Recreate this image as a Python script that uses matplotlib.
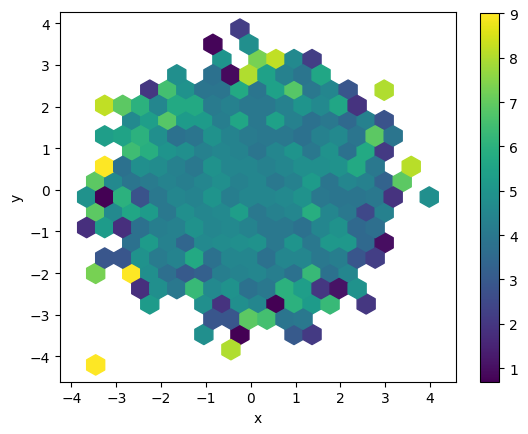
import numpy as np
import matplotlib
matplotlib.use('Agg')
import matplotlib.pyplot as plt

# range of the underlying x / y samples (sets the hexagon lattice)
x_range = (-3.862, 4.184)
y_range = (-4.206, 3.861)
grid = 20

# one entry per filled hexagon: centre x, centre y, value (one row of hexagons per line)
hex_x = [
    -0.24,
    -0.85, -0.04,
    -0.64, 0.16, 0.56, 0.97, 1.37,
    -1.65, -0.85, -0.44, -0.04, 0.36, 0.76, 1.17, 1.57,
    -2.25, -1.85, -1.45, -1.05, -0.64, -0.24, 0.16, 0.56, 0.97, 1.37, 1.77, 2.17, 2.98,
    -3.26, -2.86, -2.45, -2.05, -1.65, -1.25, -0.85, -0.44, -0.04, 0.36, 0.76, 1.17, 1.57, 1.97, 2.37,
    -2.66, -2.25, -1.85, -1.45, -1.05, -0.64, -0.24, 0.16, 0.56, 0.97, 1.37, 1.77, 2.17, 2.58, 2.98,
    -3.26, -2.86, -2.45, -2.05, -1.65, -1.25, -0.85, -0.44, -0.04, 0.36, 0.76, 1.17, 1.57, 1.97, 2.37, 2.78, 3.18,
    -2.66, -2.25, -1.85, -1.45, -1.05, -0.64, -0.24, 0.16, 0.56, 0.97, 1.37, 1.77, 2.17, 2.58, 2.98,
    -3.26, -2.86, -2.45, -2.05, -1.65, -1.25, -0.85, -0.44, -0.04, 0.36, 0.76, 1.17, 1.57, 1.97, 2.37, 2.78, 3.58,
    -3.46, -3.06, -2.66, -2.25, -1.85, -1.45, -1.05, -0.64, -0.24, 0.16, 0.56, 0.97, 1.37, 1.77, 2.17, 2.58, 2.98, 3.38,
    -3.66, -3.26, -2.86, -2.45, -2.05, -1.65, -1.25, -0.85, -0.44, -0.04, 0.36, 0.76, 1.17, 1.57, 1.97, 2.37, 2.78, 3.18, 3.98,
    -3.46, -3.06, -2.66, -2.25, -1.85, -1.45, -1.05, -0.64, -0.24, 0.16, 0.56, 0.97, 1.37, 1.77, 2.17, 2.58, 2.98,
    -3.66, -3.26, -2.86, -2.45, -2.05, -1.65, -1.25, -0.85, -0.44, -0.04, 0.36, 0.76, 1.17, 1.57, 1.97, 2.37, 2.78,
    -2.66, -2.25, -1.85, -1.45, -1.05, -0.64, -0.24, 0.16, 0.56, 0.97, 1.37, 1.77, 2.17, 2.58, 2.98,
    -3.26, -2.86, -2.45, -2.05, -1.65, -1.25, -0.85, -0.44, -0.04, 0.36, 0.76, 1.17, 1.57, 1.97, 2.37, 2.78,
    -3.46, -2.66, -2.25, -1.85, -1.45, -1.05, -0.64, -0.24, 0.16, 0.56, 0.97, 1.37, 1.77, 2.17,
    -2.45, -2.05, -1.65, -1.25, -0.85, -0.44, -0.04, 0.36, 0.76, 1.17, 1.57, 1.97, 2.37,
    -2.25, -1.05, -0.64, -0.24, 0.16, 0.56, 0.97, 1.37, 1.77, 2.58,
    -0.85, -0.44, -0.04, 0.36, 0.76, 1.17,
    -1.05, -0.24, 0.97, 1.37,
    -0.44,
    -3.46,
]
hex_y = (
    [3.86] * 1 + [3.49] * 2 + [3.13] * 5 + [2.76] * 8 + [2.39] * 13 + [2.03] * 15
    + [1.66] * 15 + [1.29] * 17 + [0.93] * 15 + [0.56] * 17 + [0.19] * 18 + [-0.17] * 19
    + [-0.54] * 17 + [-0.91] * 17 + [-1.27] * 15 + [-1.64] * 16 + [-2.01] * 14 + [-2.37] * 13
    + [-2.74] * 10 + [-3.11] * 6 + [-3.47] * 4 + [-3.84] * 1 + [-4.21] * 1
)
hex_c = [
    2.2,
    0.8, 4.8,
    5.0, 7.3, 8.2, 4.6, 2.2,
    4.8, 3.8, 0.9, 8.0, 5.4, 4.3, 3.9, 5.6,
    2.0, 6.5, 4.9, 3.9, 3.9, 5.7, 3.9, 5.4, 6.8, 4.0, 4.5, 2.9, 8.0,
    8.2, 6.9, 6.0, 4.5, 5.7, 5.7, 4.1, 4.3, 4.0, 4.0, 4.3, 5.0, 4.6, 5.6, 1.9,
    4.6, 5.3, 6.8, 5.2, 5.2, 4.2, 5.6, 4.0, 5.4, 4.3, 3.8, 4.0, 3.5, 4.3, 2.8,
    5.3, 5.5, 6.0, 4.8, 3.8, 3.9, 4.9, 4.4, 4.1, 4.0, 4.0, 3.8, 4.3, 4.6, 3.9, 6.9, 3.9,
    6.4, 5.9, 5.0, 4.8, 4.3, 4.5, 4.4, 3.9, 4.5, 5.0, 4.0, 4.9, 3.8, 5.7, 2.1,
    9.0, 3.8, 4.8, 4.7, 4.3, 4.0, 4.9, 4.5, 4.5, 4.3, 4.5, 4.8, 4.8, 4.9, 5.7, 4.0, 8.1,
    6.9, 4.6, 3.9, 4.1, 4.4, 4.2, 4.5, 4.8, 4.3, 4.5, 4.0, 4.3, 5.2, 3.9, 4.5, 4.3, 3.3, 6.9,
    4.9, 0.68, 6.0, 2.8, 4.0, 4.5, 4.4, 5.0, 4.2, 4.5, 4.5, 4.6, 4.9, 4.0, 3.9, 3.9, 4.0, 1.9, 4.8,
    6.9, 4.6, 5.6, 5.2, 4.0, 4.8, 4.5, 4.6, 5.3, 4.0, 4.3, 4.5, 5.9, 4.5, 4.0, 2.5, 4.3,
    1.8, 5.2, 1.8, 3.8, 4.2, 4.3, 4.9, 4.5, 4.6, 4.4, 4.0, 4.0, 3.8, 4.5, 4.9, 3.5, 3.7,
    3.8, 5.2, 4.3, 3.4, 4.6, 4.7, 4.8, 4.9, 4.0, 5.0, 4.0, 5.1, 5.1, 3.5, 1.0,
    2.9, 2.9, 4.9, 4.1, 4.4, 5.7, 3.8, 4.5, 4.5, 3.8, 4.5, 4.5, 4.0, 4.2, 2.9, 2.2,
    7.3, 9.0, 4.8, 3.7, 3.0, 3.2, 4.2, 4.4, 4.5, 4.2, 3.8, 6.3, 3.8, 4.5,
    1.8, 4.8, 4.0, 6.3, 4.6, 4.9, 3.8, 4.0, 6.0, 5.3, 2.0, 1.1, 4.9,
    5.2, 4.8, 1.9, 4.8, 4.5, 0.7, 6.0, 5.2, 6.3, 2.0,
    2.9, 2.9, 6.9, 6.5, 3.9, 4.0,
    4.8, 0.7, 3.0, 2.1,
    8.0,
    9.0,
]

fig = plt.figure(figsize=(5.28, 4.35), dpi=100)
ax = fig.add_axes([0.1129, 0.1202, 0.7513, 0.8492])
cax = fig.add_axes([0.9091, 0.1189, 0.0366, 0.8481])

hb = ax.hexbin(hex_x, hex_y, C=hex_c, gridsize=grid, reduce_C_function=np.mean,
               extent=(x_range[0], x_range[1], y_range[0], y_range[1]), cmap='viridis')
fig.colorbar(hb, cax=cax)

ax.set_xlabel('x')
ax.set_ylabel('y')

plt.savefig('out.png', dpi=100)
